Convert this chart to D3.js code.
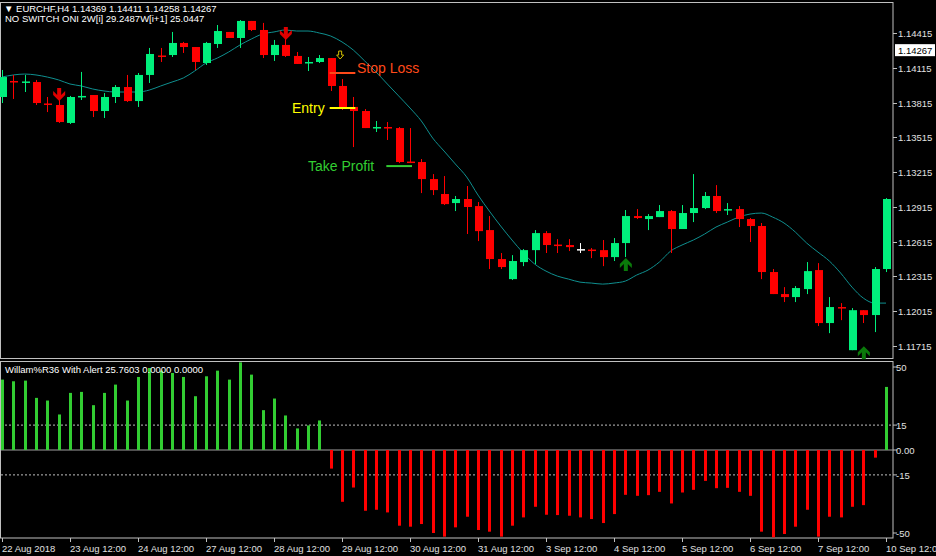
<!DOCTYPE html>
<html><head><meta charset="utf-8">
<script src="https://cdn.jsdelivr.net/npm/d3@7"></script>
<style>body{margin:0;background:#000;}svg{display:block;}</style>
</head><body>
<svg id="c" width="936" height="556"></svg>
<script>
const opens=[1.13863,1.14001,1.13988,1.13992,1.13807,1.13794,1.13639,1.13867,1.13880,1.13742,1.13863,1.13949,1.13828,1.14053,1.14221,1.14225,1.14329,1.14294,1.14156,1.14320,1.14424,1.14372,1.14519,1.14441,1.14225,1.14312,1.14217,1.14161,1.14165,1.14199,1.13958,1.13777,1.13742,1.13600,1.13604,1.13595,1.13306,1.13302,1.13155,1.13026,1.12948,1.12983,1.12922,1.12715,1.12465,1.12292,1.12439,1.12542,1.12689,1.12590,1.12586,1.12551,1.12547,1.12542,1.12482,1.12603,1.12836,1.12810,1.12827,1.12879,1.12724,1.12862,1.12905,1.13009,1.12892,1.12896,1.12810,1.12750,1.12353,1.12163,1.12137,1.12206,1.12370,1.11913,1.12051,1.11679,1.12024,1.11982,1.12379];
const highs=[1.14096,1.14053,1.14053,1.14010,1.13863,1.13837,1.13872,1.14079,1.13880,1.13897,1.13966,1.14053,1.14070,1.14286,1.14286,1.14424,1.14338,1.14294,1.14338,1.14484,1.14424,1.14527,1.14519,1.14502,1.14355,1.14398,1.14251,1.14208,1.14225,1.14199,1.14018,1.13863,1.13759,1.13656,1.13647,1.13604,1.13595,1.13328,1.13198,1.13181,1.13009,1.13095,1.12957,1.12836,1.12517,1.12499,1.12551,1.12715,1.12706,1.12637,1.12637,1.12603,1.12560,1.12629,1.12646,1.12888,1.12896,1.12853,1.12931,1.12888,1.12931,1.13198,1.13043,1.13103,1.12948,1.12922,1.12819,1.12776,1.12379,1.12223,1.12232,1.12439,1.12430,1.12137,1.12085,1.12042,1.12024,1.12396,1.12991];
const lows=[1.13811,1.13846,1.13906,1.13794,1.13733,1.13639,1.13630,1.13837,1.13690,1.13682,1.13811,1.13820,1.13777,1.13984,1.14165,1.14208,1.14243,1.14096,1.14139,1.14286,1.14372,1.14286,1.14432,1.14199,1.14174,1.14208,1.14148,1.14087,1.14156,1.13915,1.13751,1.13431,1.13595,1.13561,1.13492,1.13293,1.13293,1.13034,1.13017,1.12931,1.12879,1.12681,1.12620,1.12379,1.12379,1.12284,1.12404,1.12422,1.12517,1.12517,1.12534,1.12517,1.12473,1.12404,1.12448,1.12482,1.12810,1.12715,1.12827,1.12517,1.12724,1.12784,1.12896,1.12862,1.12845,1.12741,1.12612,1.12292,1.12163,1.12094,1.12094,1.12163,1.11887,1.11826,1.11938,1.11679,1.11913,1.11835,1.12353];
const closes=[1.14035,1.13992,1.13997,1.13811,1.13802,1.13647,1.13863,1.13872,1.13742,1.13863,1.13949,1.13828,1.14053,1.14234,1.14217,1.14329,1.14294,1.14165,1.14329,1.14432,1.14372,1.14519,1.14441,1.14225,1.14312,1.14217,1.14148,1.14165,1.14199,1.13958,1.13768,1.13742,1.13595,1.13604,1.13595,1.13302,1.13302,1.13155,1.13060,1.12939,1.12983,1.12914,1.12706,1.12465,1.12396,1.12448,1.12542,1.12689,1.12586,1.12586,1.12568,1.12551,1.12542,1.12482,1.12603,1.12836,1.12819,1.12836,1.12879,1.12724,1.12862,1.12905,1.13009,1.12879,1.12896,1.12810,1.12750,1.12353,1.12163,1.12137,1.12215,1.12361,1.11913,1.12051,1.12042,1.12024,1.11982,1.12379,1.12983];
const maLine=[1.14035,1.14053,1.14061,1.14053,1.14035,1.14010,1.13975,1.13958,1.13932,1.13915,1.13906,1.13906,1.13906,1.13923,1.13958,1.13992,1.14027,1.14087,1.14156,1.14199,1.14251,1.14312,1.14363,1.14407,1.14424,1.14441,1.14432,1.14432,1.14415,1.14389,1.14338,1.14268,1.14174,1.14079,1.13975,1.13872,1.13768,1.13656,1.13509,1.13397,1.13285,1.13173,1.13017,1.12879,1.12750,1.12629,1.12517,1.12422,1.12361,1.12318,1.12292,1.12266,1.12258,1.12249,1.12258,1.12275,1.12327,1.12370,1.12439,1.12534,1.12586,1.12629,1.12681,1.12741,1.12784,1.12827,1.12853,1.12862,1.12827,1.12776,1.12698,1.12603,1.12525,1.12448,1.12344,1.12223,1.12128,1.12085,1.12085];
const willR=[42.4,41.4,41.8,31.4,29.8,21.4,34.4,35,27,34.4,39.4,29.8,44,49.4,47.8,46.4,44,32.4,44.4,47.8,42.4,52.8,45.4,24,31,20.8,13,14.8,17.8,-11.2,-31.2,-22.6,-36.6,-36,-37.6,-45.6,-46.2,-44.6,-50,-52.2,-46.6,-40.2,-48.2,-49.2,-52.2,-45.6,-40.6,-34.2,-39,-39.2,-39.6,-40.6,-41.6,-44,-38.6,-27,-27.6,-27.2,-25.2,-32.2,-25.6,-24,-18.6,-23,-22.8,-25.2,-27.6,-49.2,-52.6,-50.6,-46.2,-36,-52.2,-40.2,-40.6,-34.2,-33.2,-4.6,38];
const priceTicks=[1.14415,1.14115,1.13815,1.13515,1.13215,1.12915,1.12615,1.12315,1.12015,1.11715];
const wrTicks=[50,15,0,-15,-50];
const wrTickLabels=["50","15","0.00","-15","-50"];
const dateIdx=[0,6,12,18,24,30,36,42,48,54,60,66,72,78];
const dateLabels=["22 Aug 2018","23 Aug 12:00","24 Aug 12:00","27 Aug 12:00","28 Aug 12:00","29 Aug 12:00","30 Aug 12:00","31 Aug 12:00","3 Sep 12:00","4 Sep 12:00","5 Sep 12:00","6 Sep 12:00","7 Sep 12:00","10 Sep 12:00"];
const downArrows=[{i:5,p:1.13915},{i:25,p:1.14441}];
const upArrows=[{i:55,p:1.12439},{i:76,p:1.11679}];
const levels=[{name:"Stop Loss",p:1.14070,i0:29,i1:31,col:"#ff4a1a",lx:357},{name:"Entry",p:1.13768,i0:29,i1:31,col:"#ffff00",lx:292},{name:"Take Profit",p:1.13267,i0:34,i1:36,col:"#32cd32",lx:308}];
const title1="▼ EURCHF,H4  1.14369 1.14411 1.14258 1.14267";
const title2="NO SWITCH ONI 2W[i] 29.2487W[i+1] 25.0447";
const wrTitle="Willam%R36 With Alert 25.7603 0.0000 0.0000";
const lastPrice=1.14267;

const svg=d3.select("#c");
const F="'Liberation Sans', Arial, sans-serif";
const FS=9.5;
const R=893;
const x=d3.scaleLinear().domain([0,78]).range([2,886]);
const y=d3.scaleLinear().domain([1.11715,1.14415]).range([346,33]);
const yw=d3.scaleLinear().domain([-50,50]).range([533,367]);
const GREEN="#00f07c", RED="#ff0000";

svg.append("rect").attr("x",0.5).attr("y",2.5).attr("width",R-0.5).attr("height",356).attr("fill","none").attr("stroke","#c0c0c0");
svg.append("rect").attr("x",0.5).attr("y",361.5).attr("width",R-0.5).attr("height",176.5).attr("fill","none").attr("stroke","#c0c0c0");

const main=svg.append("g");
main.append("path").datum(maLine).attr("fill","none").attr("stroke","#0f8f8f").attr("stroke-width",1)
 .attr("d",d3.line().x((d,i)=>x(i)).y(d=>y(d)).curve(d3.curveMonotoneX));
const idx=d3.range(opens.length);
const col=i=>closes[i]>opens[i]?GREEN:(closes[i]<opens[i]?RED:"#ffffff");
main.selectAll(".wk").data(idx).join("line").attr("x1",i=>Math.round(x(i))+0.5).attr("x2",i=>Math.round(x(i))+0.5)
 .attr("y1",i=>y(highs[i])).attr("y2",i=>y(lows[i])).attr("stroke",col);
main.selectAll(".bd").data(idx).join("rect").attr("x",i=>Math.round(x(i))-3).attr("width",8)
 .attr("y",i=>y(Math.max(opens[i],closes[i]))).attr("height",i=>Math.max(1.5,Math.abs(y(opens[i])-y(closes[i]))))
 .attr("fill",col);
const arrowDown=(cx,cy)=>`M${cx-2},${cy} h4 v7 l4,-4 v4 l-6,6 l-6,-6 v-4 l4,4 z`;
const arrowUp=(cx,cy)=>`M${cx-2},${cy} h4 v-7 l4,4 v-4 l-6,-6 l-6,6 v4 l4,-4 z`;
downArrows.forEach(a=>main.append("path").attr("d",arrowDown(x(a.i)+0.5,y(a.p)-3)).attr("fill","#e00000"));
upArrows.forEach(a=>main.append("path").attr("d",arrowUp(x(a.i)+0.5,y(a.p)+9)).attr("fill","#0a7a0a"));
main.append("path").attr("d",`M${x(29)+8},${y(1.14199)-7} h3 v4 h2 l-3.5,4 l-3.5,-4 h2 z`).attr("fill","none").attr("stroke","#d4c000");
levels.forEach(l=>{
  main.append("line").attr("x1",x(l.i0)-1).attr("x2",x(l.i1)+2).attr("y1",y(l.p)).attr("y2",y(l.p)).attr("stroke",l.col).attr("stroke-width",2);
  main.append("text").attr("x",l.lx).attr("y",y(l.p)+(l.name==="Stop Loss"?0:5)).attr("fill",l.col).attr("font-family","Arial, 'Liberation Sans'").attr("font-size",14).text(l.name);
});
svg.append("text").attr("x",4).attr("y",12).attr("fill","#fff").attr("font-family",F).attr("font-size",FS).text(title1);
svg.append("text").attr("x",5).attr("y",22).attr("fill","#fff").attr("font-family",F).attr("font-size",FS).text(title2);

priceTicks.forEach(p=>{
  svg.append("line").attr("x1",R).attr("x2",R+4).attr("y1",Math.round(y(p))+0.5).attr("y2",Math.round(y(p))+0.5).attr("stroke","#c0c0c0");
  svg.append("text").attr("x",R+5).attr("y",y(p)+4).attr("fill","#e0e0e0").attr("font-family",F).attr("font-size",FS).text(p.toFixed(5));
});
svg.append("rect").attr("x",R+2).attr("y",y(lastPrice)-6).attr("width",40).attr("height",12).attr("fill","#fff");
svg.append("text").attr("x",R+5).attr("y",y(lastPrice)+4).attr("fill","#000").attr("font-family",F).attr("font-size",FS).text(lastPrice.toFixed(5));

const ind=svg.append("g");
[15,-15].forEach(v=>ind.append("line").attr("x1",1).attr("x2",R).attr("y1",yw(v)).attr("y2",yw(v)).attr("stroke","#c0c0c0").attr("stroke-dasharray","2,2"));
ind.append("line").attr("x1",1).attr("x2",R).attr("y1",yw(0)).attr("y2",yw(0)).attr("stroke","#a0a0a0");
ind.selectAll(".wb").data(idx).join("rect").attr("x",i=>Math.round(x(i))-1).attr("width",3)
 .attr("y",i=>yw(Math.max(0,willR[i]))).attr("height",i=>Math.abs(yw(willR[i])-yw(0)))
 .attr("fill",i=>willR[i]>=0?"#32cd32":RED);
svg.append("text").attr("x",5).attr("y",373).attr("fill","#fff").attr("font-family",F).attr("font-size",FS).text(wrTitle);
wrTicks.forEach((v,k)=>{
  svg.append("line").attr("x1",R).attr("x2",R+4).attr("y1",yw(v)).attr("y2",yw(v)).attr("stroke","#c0c0c0");
  svg.append("text").attr("x",R+3).attr("y",yw(v)+4).attr("fill","#e0e0e0").attr("font-family",F).attr("font-size",FS).text(wrTickLabels[k]);
});
dateIdx.forEach((d,k)=>{
  svg.append("line").attr("x1",Math.round(x(d))+0.5).attr("x2",Math.round(x(d))+0.5).attr("y1",538).attr("y2",542).attr("stroke","#c0c0c0");
  svg.append("text").attr("x",x(d)).attr("y",552).attr("fill","#e0e0e0").attr("font-family",F).attr("font-size",FS).text(dateLabels[k]);
});
</script>
</body></html>
